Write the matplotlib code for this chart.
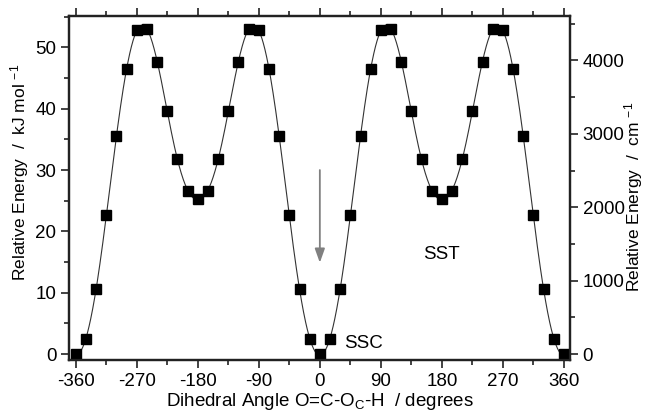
import numpy as np
import matplotlib
matplotlib.use("Agg")
import matplotlib.pyplot as plt
from matplotlib.ticker import MultipleLocator

plt.rcParams['font.family'] = ['Liberation Sans', 'DejaVu Sans']
plt.rcParams['mathtext.fontset'] = 'custom'
plt.rcParams['mathtext.rm'] = 'Liberation Sans'
plt.rcParams['mathtext.it'] = 'Liberation Sans'
plt.rcParams['axes.unicode_minus'] = False

# torsion scan, every 15 degrees
angle = np.arange(-360, 361, 15)
energy = [0.0, 2.44, 10.6, 22.6, 35.55, 46.4, 52.8, 53.0, 47.65, 39.6, 31.75, 26.65,
          25.24, 26.65, 31.75, 39.6, 47.65, 53.0, 52.8, 46.4, 35.55, 22.6, 10.6, 2.44,
          0.0,
          2.44, 10.6, 22.6, 35.55, 46.4, 52.8, 53.0, 47.65, 39.6, 31.75, 26.65,
          25.24, 26.65, 31.75, 39.6, 47.65, 53.0, 52.8, 46.4, 35.55, 22.6, 10.6, 2.44,
          0.0]
kj_to_cm = 83.593

# fourier fit of the potential
th = np.radians(angle)
nterms = 7
A = np.column_stack([np.cos(n * th) for n in range(nterms)])
coef = np.linalg.lstsq(A, np.array(energy), rcond=None)[0]
tt = np.linspace(-360, 360, 1441)
fit = np.column_stack([np.cos(n * np.radians(tt)) for n in range(nterms)]) @ coef

fig = plt.figure(figsize=(6.47, 4.18), dpi=100)
ax = fig.add_axes([69/647, 1 - 360/418, 501/647, 344/418])

ax.plot(tt, fit, color='#333333', lw=0.8, zorder=2)
ax.plot(angle, energy, 's', color='black', ms=7, zorder=3)

ax.annotate('', xy=(0, 14.9), xytext=(0, 30.0),
            arrowprops=dict(arrowstyle='-|>,head_length=0.7,head_width=0.25', color='#808080',
                            lw=1.3, mutation_scale=12, shrinkA=0, shrinkB=0))
ax.text(180, 16.2, 'SST', fontsize=13.5, ha='center', va='center')
ax.text(64, 1.7, 'SSC', fontsize=13.5, ha='center', va='center')

ax.set_xlim(-370, 369)
ax.set_ylim(-0.95, 55.1)
ax.xaxis.set_major_locator(MultipleLocator(90))
ax.xaxis.set_minor_locator(MultipleLocator(45))
ax.yaxis.set_major_locator(MultipleLocator(10))
ax.yaxis.set_minor_locator(MultipleLocator(5))
ax.tick_params(which='both', direction='out', top=True, labeltop=False,
               labelsize=13.5, width=1.2, color='#222222', pad=3)
ax.tick_params(which='major', length=6)
ax.tick_params(which='minor', length=3.5)
for s in ax.spines.values():
    s.set_linewidth(1.6)
    s.set_color('#222222')

ax.set_xlabel('Dihedral Angle O=C-O$_\\mathregular{C}$-H  / degrees', fontsize=13.5, labelpad=1)
ax.set_ylabel('Relative Energy  /  kJ mol $^\\mathregular{-1}$', fontsize=12.5)
ax.yaxis.set_label_coords(-0.076, 0.545)

ax2 = ax.twinx()
ax2.set_ylim(np.array(ax.get_ylim()) * kj_to_cm)
ax2.yaxis.set_major_locator(MultipleLocator(1000))
ax2.yaxis.set_minor_locator(MultipleLocator(500))
ax2.tick_params(which='both', direction='out', labelsize=13.5, width=1.2, color='#222222', pad=3)
ax2.tick_params(which='major', length=6)
ax2.tick_params(which='minor', length=3.5)
for s in ax2.spines.values():
    s.set_linewidth(1.6)
    s.set_color('#222222')
ax2.set_ylabel('Relative Energy  /  cm $^\\mathregular{-1}$', fontsize=12.5, rotation=90)
ax2.yaxis.set_label_coords(1.104, 0.475)

fig.savefig('out.png', dpi=100)
